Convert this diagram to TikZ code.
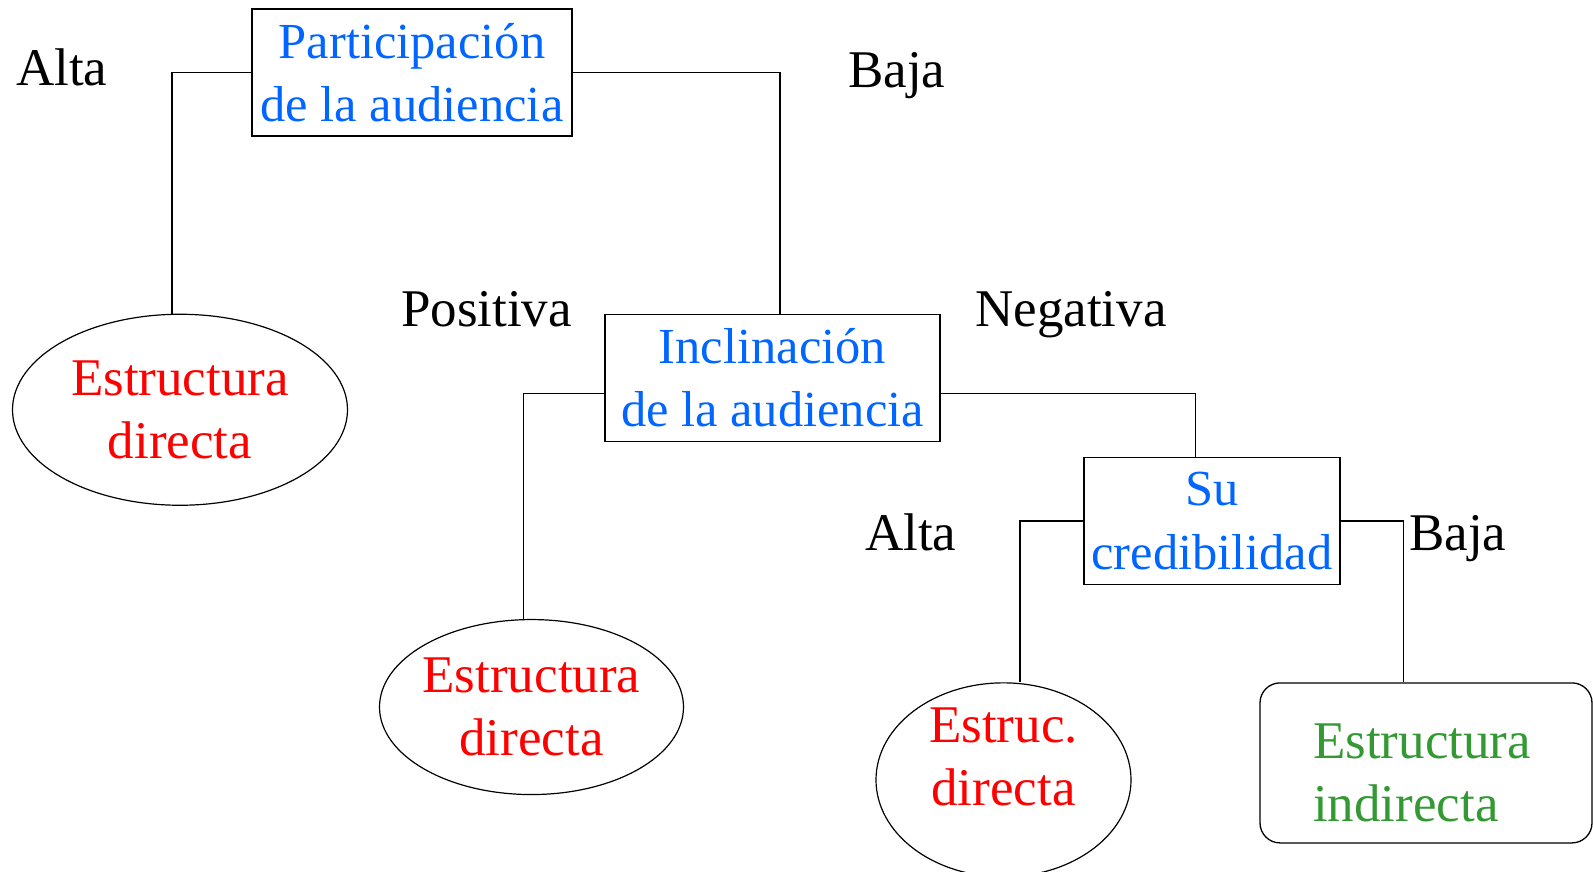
\documentclass[tikz,border=0pt]{standalone}
\usepackage{fontspec}
\setmainfont{Liberation Serif}
\usepackage{xcolor}
\usetikzlibrary{shapes.geometric,positioning}
\definecolor{qblue}{RGB}{0,102,255}
\definecolor{qred}{RGB}{255,0,0}
\definecolor{qgreen}{RGB}{51,153,51}
\tikzset{
	% Specifications for style of nodes:
	question/.style ={rectangle, draw=black, line width=1.3pt,
	inner sep=0pt, text=qblue, align=center,
	font=\fontsize{50.5}{63.5}\selectfont},
	leafdir/.style ={ellipse, draw=black, line width=1.2pt,
	inner sep=0pt, text=qred, align=center},
	leafind/.style ={rectangle, rounded corners=20pt, draw=black, line width=1.3pt,
	inner sep=0pt},
	answer/.style ={anchor=base west, inner sep=0pt, text=black},
	link/.style ={line width=1.3pt, draw=black},
}

\begin{document}
\begin{tikzpicture}[x=1pt, y=-1pt, every node/.style={font=\fontsize{53}{63.5}\selectfont}]
	\useasboundingbox (0,0) rectangle (1593,871);
		% question boxes
		\node (part)[question, minimum width=320pt, minimum height=127pt] at (412,72.5) {Participación\\de la audiencia};
		\node (incl)[question, minimum width=335pt, minimum height=127pt, below=177pt of part, xshift=360.5pt]{Inclinación\\de la audiencia};
		\node (cred)[question, minimum width=256pt, minimum height=127pt, below=15pt of incl, xshift=439.5pt]{Su\\credibilidad};
		% leaves
		\node (dir1)[leafdir, minimum width=335pt, minimum height=191pt, below=177pt of part, xshift=-232pt]{Estructura\\directa};
		\node (dir2)[leafdir, inner xsep=-5pt, minimum width=304pt, minimum height=175pt, below=177pt of incl, xshift=-241pt]{Estructura\\directa};
		\node (dir3)[leafdir, minimum width=255pt, minimum height=194pt, below=97pt of cred, xshift=-208.5pt]{};
		\node (dir3txt)[text=qred, align=center, inner sep=0pt] at ([yshift=23pt]dir3.center){Estruc.\\directa};
		\node (ind)[leafind, minimum width=332pt, minimum height=160pt, below=97pt of cred, xshift=214pt]{};
		\node (indtxt)[text=qgreen, align=left, inner sep=0pt, anchor=west] at (1313,773){Estructura\\indirecta};
		% answers
		\node (alta1)[answer] at (16,85) {Alta};
		\node (baja1)[answer] at (848,87) {Baja};
		\node (posi)[answer] at (401,326) {Positiva};
		\node (nega)[answer] at (975,326) {Negativa};
		\node (alta2)[answer] at (865,550) {Alta};
		\node (baja2)[answer] at (1409,550) {Baja};
		% draw connectors
		\draw[link](part.west) -| ([xshift=-8pt]dir1.north);
		\draw[link](part.east) -| ([xshift=7.5pt]incl.north);
		\draw[link]([yshift=-16pt]incl.west) -| ([xshift=-8pt]dir2.north);
		\draw[link]([yshift=-16pt]incl.east) -| ([xshift=-16.5pt]cred.north);
		\draw[link](cred.west) -| ([xshift=16.5pt]dir3.north);
		\draw[link](cred.east) -| ([xshift=-22.5pt]ind.north);
	\end{tikzpicture}
\end{document}
